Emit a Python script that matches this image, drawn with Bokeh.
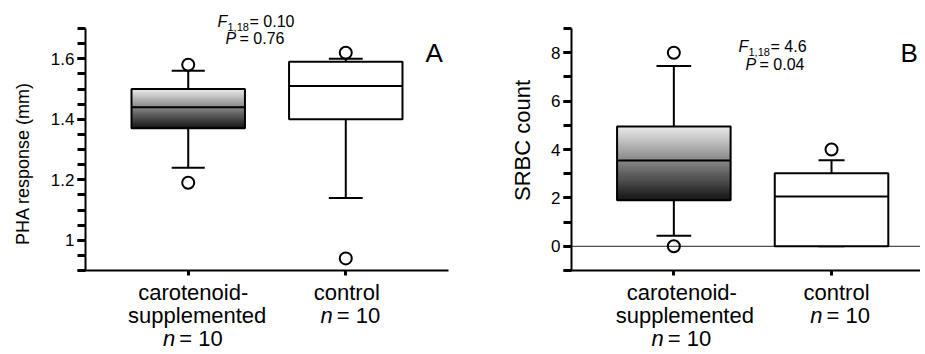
import numpy as np
from bokeh.plotting import figure
from bokeh.models import Range1d, FixedTicker, CustomJSTickFormatter, Label
from bokeh.layouts import row
from bokeh.embed import file_html
from bokeh.resources import INLINE

# ---------------- data ----------------
group_pos = [1, 2]  # carotenoid-supplemented, control
group_lines = [["carotenoid-", "supplemented"], ["control"]]
group_n = [10, 10]

# Panel A: PHA response (mm)
pha_q1 = [1.37, 1.40]
pha_median = [1.44, 1.51]
pha_q3 = [1.50, 1.59]
pha_low = [1.24, 1.14]
pha_high = [1.56, 1.60]
pha_out_x = [1, 1, 2, 2]
pha_out_y = [1.58, 1.19, 1.62, 0.94]
pha_yticks = [1.0, 1.2, 1.4, 1.6]
pha_stats = ("0.10", "0.76")

# Panel B: SRBC count
srbc_q1 = [1.9, 0.0]
srbc_median = [3.55, 2.06]
srbc_q3 = [4.95, 3.02]
srbc_low = [0.44, 0.0]
srbc_high = [7.45, 3.56]
srbc_out_x = [1, 1, 2]
srbc_out_y = [8.0, 0.0, 4.0]
srbc_yticks = [0, 2, 4, 6, 8]
srbc_stats = ("4.6", "0.04")

FONT = "Liberation Sans"
BOX_W = 0.72
W = 460
H = 352
TOP = 28   # page y of the top of the value axis
BOT = 270  # page y of the category axis


class Geo:
    """pixel geometry of one panel: the frame covers the whole figure"""
    def __init__(self, fig_x0, ax_x0, ax_x1, xr, yr):
        self.fig_x0 = fig_x0
        self.xppu = (ax_x1 - ax_x0) / (xr[1] - xr[0])
        self.yppu = (BOT - TOP) / (yr[1] - yr[0])
        lx = ax_x0 - fig_x0
        self.x_range = (xr[0] - lx / self.xppu, xr[0] + (W - lx) / self.xppu)
        self.y_range = (yr[0] - (H - BOT) / self.yppu, yr[1] + TOP / self.yppu)
        self.ax_x0 = ax_x0
        self.xr = xr

    def dx(self, page_x):
        return self.x_range[0] + (page_x - self.fig_x0) / self.xppu

    def dy(self, page_y):
        return self.y_range[0] + (H - page_y) / self.yppu

    def cat(self, v):
        return self.ax_x0 + (v - self.xr[0]) * self.xppu


def lab(p, g, px, base_y, text, size, style="normal", align="left"):
    """horizontal text whose alphabetic baseline sits at page y = base_y"""
    p.add_layout(Label(x=g.dx(px), y=g.dy(base_y - 0.35 * size), text=text,
                       text_font=FONT, text_font_size=f"{size}px", text_font_style=style,
                       text_align=align, text_baseline="middle", text_color="black"))


def vlab(p, g, px, py, text, size):
    p.add_layout(Label(x=g.dx(px), y=g.dy(py), text=text, angle=np.pi / 2,
                       text_font=FONT, text_font_size=f"{size}px",
                       text_align="center", text_baseline="middle", text_color="black"))


def make_panel(fig_x0, ax_x0, ax_x1, xr, yr, q1, med, q3, lo, hi, ox, oy,
               yticks, minor, ylabel, ylab_pos, ylab_size, tick_size, stats, stats_pos,
               letter, letter_pos, cap_w, text_offsets, zero_line=False):
    g = Geo(fig_x0, ax_x0, ax_x1, xr, yr)
    p = figure(width=W, height=H, output_backend="svg", toolbar_location=None,
               x_range=Range1d(*g.x_range), y_range=Range1d(*g.y_range),
               min_border_left=0, min_border_right=0, min_border_top=0, min_border_bottom=0)
    p.xgrid.visible = False
    p.ygrid.visible = False
    p.outline_line_color = None
    p.background_fill_color = "white"
    p.border_fill_color = "white"

    if zero_line:
        p.segment(x0=[xr[0]], y0=[0], x1=[g.x_range[1]], y1=[0], line_color="#222222",
                  line_width=1)

    # whiskers
    p.segment(x0=group_pos, y0=q3, x1=group_pos, y1=hi, line_color="black", line_width=2)
    p.segment(x0=group_pos, y0=q1, x1=group_pos, y1=lo, line_color="black", line_width=2)
    cl = [x - c / 2 for x, c in zip(group_pos, cap_w)]
    cr = [x + c / 2 for x, c in zip(group_pos, cap_w)]
    p.segment(x0=cl, y0=hi, x1=cr, y1=hi, line_color="black", line_width=2)
    p.segment(x0=cl, y0=lo, x1=cr, y1=lo, line_color="black", line_width=2)

    # gradient fill for the carotenoid box
    n = 70
    edges = np.linspace(q1[0], q3[0], n + 1)
    levels = np.linspace(20, 232, n)
    cols = ["#%02x%02x%02x" % (int(v), int(v), int(v)) for v in levels]
    p.quad(left=[group_pos[0] - BOX_W / 2] * n, right=[group_pos[0] + BOX_W / 2] * n,
           bottom=edges[:-1], top=edges[1:], fill_color=cols, line_color=cols, line_width=1)
    # boxes
    left_e = [x - BOX_W / 2 for x in group_pos]
    right_e = [x + BOX_W / 2 for x in group_pos]
    p.quad(left=left_e, right=right_e, bottom=q1, top=q3,
           fill_color=["rgba(0,0,0,0)", "white"], line_color="black", line_width=2)
    p.segment(x0=left_e, y0=med, x1=right_e, y1=med, line_color="black", line_width=2)

    # outliers
    p.scatter(x=ox, y=oy, marker="circle", size=12, line_color="black", line_width=2,
              fill_color=None)

    # axes (drawn at fixed locations inside the full-size frame)
    ya = p.yaxis[0]
    ya.fixed_location = xr[0]
    ya.bounds = yr
    ya.ticker = FixedTicker(ticks=yticks, minor_ticks=minor)
    ya.formatter = CustomJSTickFormatter(code="return String(Math.round(tick*100)/100);")
    ya.axis_line_width = 2
    ya.major_tick_in = 0
    ya.major_tick_out = 8
    ya.minor_tick_in = 0
    ya.minor_tick_out = 8
    ya.major_tick_line_width = 3
    ya.minor_tick_line_width = 3
    ya.major_label_standoff = 3
    ya.major_label_text_font = FONT
    ya.major_label_text_font_size = f"{tick_size}px"
    ya.major_label_text_color = "black"

    xa = p.xaxis[0]
    xa.fixed_location = yr[0]
    xa.bounds = (xr[0] - 8 / g.xppu, xr[1])
    xa.ticker = FixedTicker(ticks=group_pos)
    xa.axis_line_width = 2
    xa.major_tick_in = 0
    xa.major_tick_out = 5
    xa.major_tick_line_width = 3
    xa.minor_tick_line_color = None
    xa.major_label_text_color = None

    # y label
    vlab(p, g, ylab_pos[0], ylab_pos[1], ylabel, ylab_size)

    # category labels
    for i, x in enumerate(group_pos):
        cx = g.cat(x)
        lines = group_lines[i]
        offs = text_offsets[i]
        for j, t in enumerate(lines):
            lab(p, g, cx + offs[j], 300 + 23 * j, t, 22, align="center")
        sy = 300 + 23 * len(lines)
        lab(p, g, cx + offs[-1] - 15, sy, "n", 22, style="italic", align="right")
        lab(p, g, cx + offs[-1] - 11, sy, f"= {group_n[i]}", 22, align="left")

    # stats
    fx, fy, px_, py_ = stats_pos
    lab(p, g, fx, fy, "F", 16, style="italic")
    lab(p, g, fx + 10, fy + 3, "1,18", 11)
    lab(p, g, fx + 32, fy, "= " + stats[0], 16)
    lab(p, g, px_, py_, "P", 16, style="italic")
    lab(p, g, px_ + 14, py_, "= " + stats[1], 16)

    # panel letter
    lab(p, g, letter_pos[0], letter_pos[1], letter, 26)
    return p


pha_minor = [round(0.9 + 0.05 * k, 2) for k in range(17)]
srbc_minor = list(range(-1, 10))

pA = make_panel(0, 85, 448, (0.348, 2.652), (0.9, 1.7),
                pha_q1, pha_median, pha_q3, pha_low, pha_high, pha_out_x, pha_out_y,
                pha_yticks, pha_minor, "PHA response (mm)", (22, 163), 18, 17,
                pha_stats, (217, 27, 225, 44), "A", (425, 62), [0.21, 0.215],
                [[5, 9, 2], [1, 2]])
pB = make_panel(460, 571, 934, (0.351, 2.653), (-1, 9),
                srbc_q1, srbc_median, srbc_q3, srbc_low, srbc_high, srbc_out_x, srbc_out_y,
                srbc_yticks, srbc_minor, "SRBC count", (522, 140), 22, 17,
                srbc_stats, (738, 52, 745, 70), "B", (900, 62), [0.22, 0.165],
                [[8, 11, 5], [5, 6]], zero_line=True)

layout = row(pA, pB)
open("out.html", "w").write(file_html(layout, INLINE))
